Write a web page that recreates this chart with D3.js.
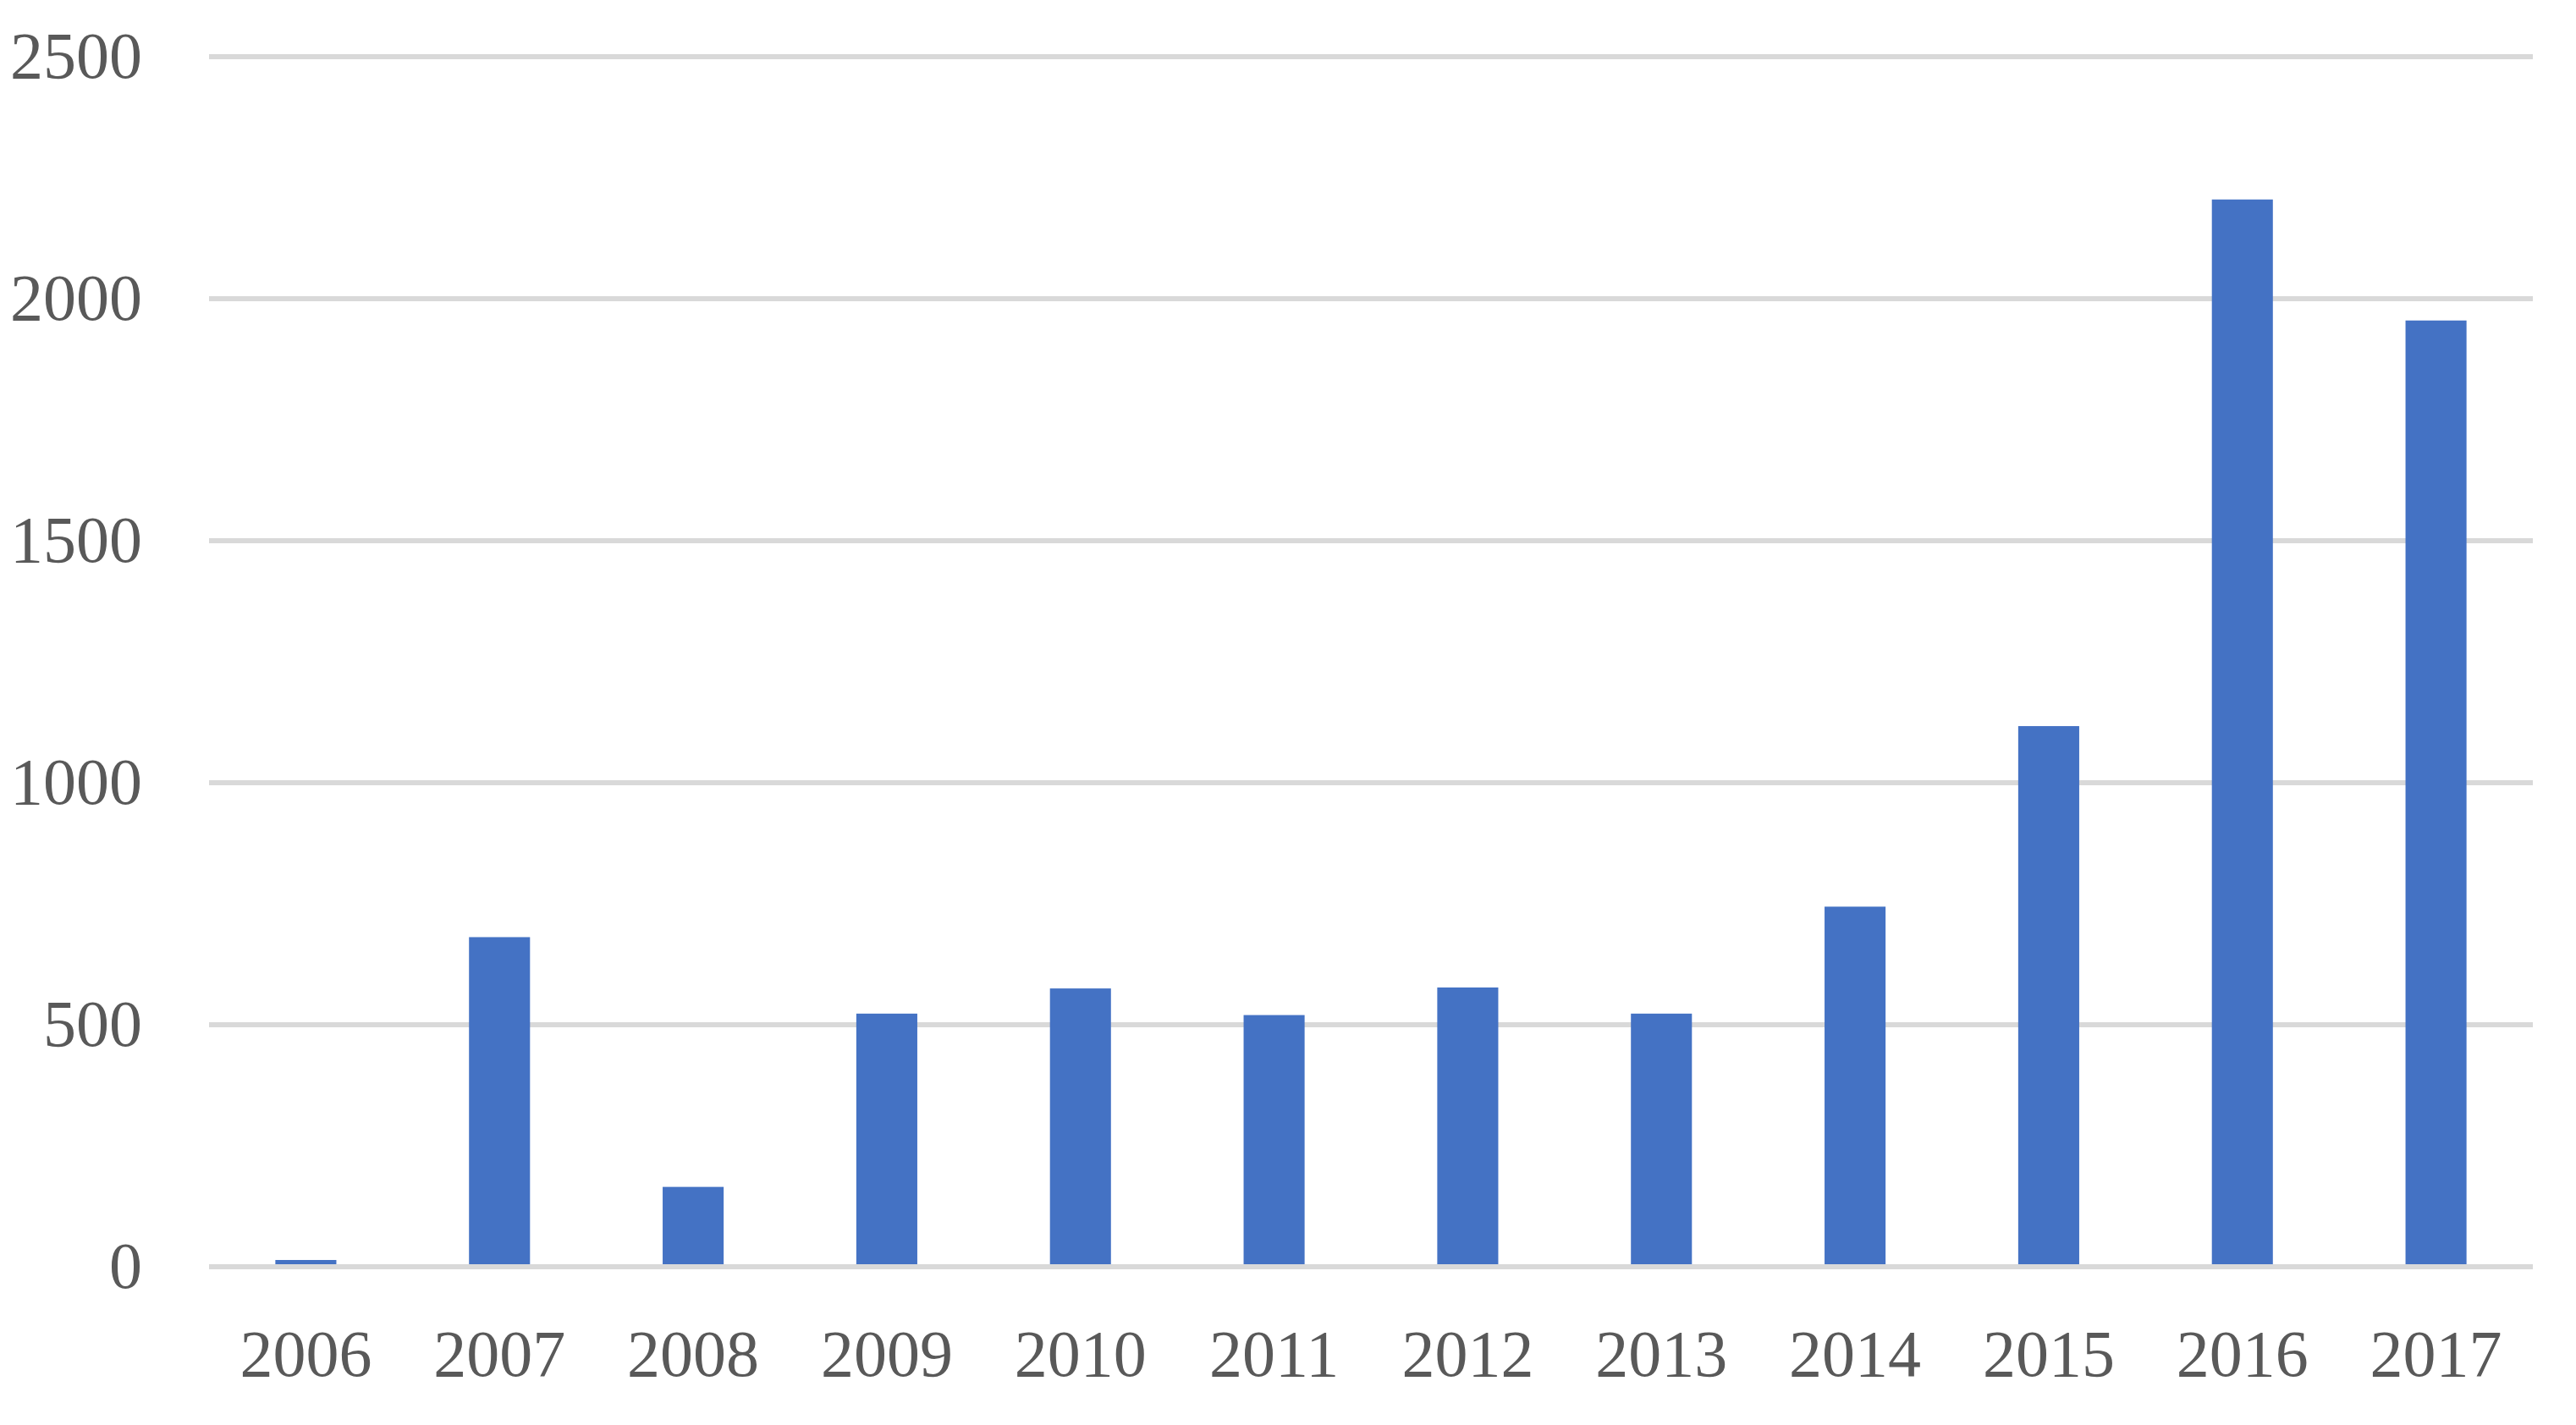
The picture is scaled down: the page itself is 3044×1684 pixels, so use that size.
<!DOCTYPE html>
<html>
<head>
<meta charset="utf-8">
<script src="https://cdn.jsdelivr.net/npm/d3@7"></script>
<style>
  html, body { margin: 0; padding: 0; background: #fff; }
  svg text { font-family: "Liberation Serif", "DejaVu Serif", serif; fill: #595959; }
</style>
</head>
<body>
<svg width="3044" height="1684"></svg>
<script>
// data
const years = ['2006', '2007', '2008', '2009', '2010', '2011', '2012', '2013', '2014', '2015', '2016', '2017']
const counts = [14, 681, 165, 523, 575, 520, 577, 523, 744, 1117, 2205, 1955]
const yTicks = [0, 500, 1000, 1500, 2000, 2500]

const margin = {top: 67, right: 51, bottom: 187, left: 247}
const W = 3044, H = 1684

const svg = d3.select('svg')

const x = d3.scaleBand()
  .domain(years)
  .range([margin.left, W - margin.right])
  .paddingInner(0.685)
  .paddingOuter(0.3425)

const y = d3.scaleLinear()
  .domain([0, 2500])
  .range([H - margin.bottom, margin.top])

// gridlines
svg.append('g')
  .selectAll('line')
  .data(yTicks)
  .join('line')
    .attr('x1', margin.left)
    .attr('x2', W - margin.right)
    .attr('y1', d => y(d))
    .attr('y2', d => y(d))
    .attr('stroke', '#d9d9d9')
    .attr('stroke-width', 6)

// bars
svg.append('g')
  .selectAll('rect')
  .data(years)
  .join('rect')
    .attr('x', d => x(d))
    .attr('width', x.bandwidth())
    .attr('y', (d, i) => y(counts[i]))
    .attr('height', (d, i) => y(0) - 3 - y(counts[i]))
    .attr('fill', '#4472c4')

// y axis labels
const yAxis = d3.axisLeft(y).tickValues(yTicks).tickFormat(d3.format('d')).tickSize(0).tickPadding(79)
svg.append('g')
  .attr('transform', `translate(${margin.left},0)`)
  .call(yAxis)
  .call(g => g.select('.domain').remove())
  .selectAll('text')
    .attr('font-size', 78)
    .attr('font-family', '"Liberation Serif", serif')
    .attr('fill', '#595959')

// x axis labels
const xAxis = d3.axisBottom(x).tickSize(0).tickPadding(74)
svg.append('g')
  .attr('transform', `translate(0,${y(0)})`)
  .call(xAxis)
  .call(g => g.select('.domain').remove())
  .selectAll('text')
    .attr('font-size', 78)
    .attr('font-family', '"Liberation Serif", serif')
    .attr('fill', '#595959')
</script>
</body>
</html>
